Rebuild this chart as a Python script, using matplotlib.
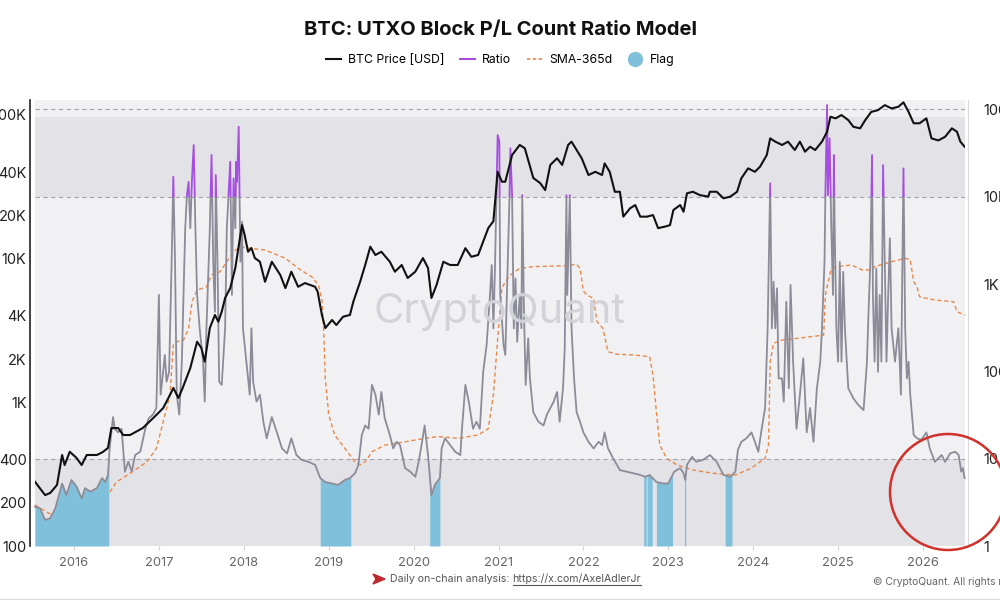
import numpy as np
import matplotlib
matplotlib.use("Agg")
import matplotlib.pyplot as plt
from matplotlib.lines import Line2D
from matplotlib.patches import Rectangle, Circle, Polygon

plt.rcParams['font.family'] = ['Inter', 'DejaVu Sans']

# ---------------- data (decimal years) ----------------
price_years = [2015.54, 2015.66, 2015.72, 2015.80, 2015.86, 2015.89, 2015.95, 2016.03, 2016.09, 2016.15,
               2016.27, 2016.34, 2016.40, 2016.44, 2016.52, 2016.58, 2016.66, 2016.81, 2016.97, 2017.05,
               2017.13, 2017.17, 2017.23, 2017.28, 2017.37, 2017.45, 2017.50, 2017.54, 2017.60, 2017.66,
               2017.70, 2017.74, 2017.78, 2017.84, 2017.90, 2017.96, 2017.98, 2018.01, 2018.05, 2018.09,
               2018.13, 2018.19, 2018.25, 2018.33, 2018.43, 2018.49, 2018.56, 2018.64, 2018.72, 2018.84,
               2018.87, 2018.92, 2018.96, 2019.04, 2019.09, 2019.17, 2019.25, 2019.29, 2019.37, 2019.43,
               2019.49, 2019.55, 2019.62, 2019.72, 2019.78, 2019.86, 2019.93, 2020.02, 2020.11, 2020.17,
               2020.21, 2020.27, 2020.35, 2020.43, 2020.52, 2020.61, 2020.68, 2020.76, 2020.82, 2020.88,
               2020.94, 2020.99, 2021.04, 2021.08, 2021.16, 2021.25, 2021.31, 2021.35, 2021.41, 2021.49,
               2021.55, 2021.61, 2021.69, 2021.75, 2021.82, 2021.86, 2021.92, 2021.98, 2022.06, 2022.14,
               2022.22, 2022.25, 2022.31, 2022.37, 2022.43, 2022.47, 2022.55, 2022.61, 2022.67, 2022.75,
               2022.82, 2022.88, 2022.96, 2023.02, 2023.06, 2023.14, 2023.18, 2023.22, 2023.29, 2023.37,
               2023.47, 2023.49, 2023.57, 2023.65, 2023.73, 2023.81, 2023.86, 2023.94, 2024.02, 2024.08,
               2024.16, 2024.20, 2024.26, 2024.34, 2024.41, 2024.49, 2024.55, 2024.61, 2024.67, 2024.73,
               2024.81, 2024.87, 2024.91, 2024.97, 2025.04, 2025.12, 2025.18, 2025.26, 2025.32, 2025.39,
               2025.47, 2025.55, 2025.63, 2025.71, 2025.77, 2025.83, 2025.89, 2025.96, 2026.04, 2026.10,
               2026.18, 2026.26, 2026.34, 2026.40, 2026.44, 2026.49]
price_usd = [280, 226, 234, 266, 430, 366, 453, 410, 366, 430,
             430, 451, 481, 662, 662, 592, 592, 662, 816, 912,
             1124, 1259, 1072, 1259, 1734, 2642, 2388, 1919, 3289, 4055,
             3640, 4276, 5323, 6237, 8603, 14600, 17130, 14600, 11170, 11860,
             10090, 9510, 6900, 9510, 7690, 6237, 8110, 6370, 6760, 6370,
             5890, 4055, 3289, 3740, 3450, 3945, 4055, 5010, 6900, 9030,
             12110, 10600, 11170, 9510, 8110, 9030, 7330, 8110, 10090, 8600,
             5320, 6550, 9510, 9030, 9030, 11830, 10300, 10600, 13130, 16330,
             18230, 40270, 34300, 34300, 52600, 61800, 58600, 48500, 36400, 33600,
             30000, 44900, 49900, 44900, 61800, 65200, 57000, 49900, 38200, 40200,
             38200, 46000, 40200, 29200, 29200, 19600, 22400, 23600, 19600, 19600,
             20100, 16300, 16700, 17100, 21800, 23600, 21200, 28500, 29200, 27700,
             27000, 29200, 29200, 26300, 27000, 29200, 36200, 42500, 40200, 43600,
             52600, 68700, 65200, 61800, 65200, 57000, 65200, 55500, 60100, 57000,
             65200, 76400, 97200, 94700, 99800, 92100, 82700, 80700, 92100, 105000,
             108000, 117000, 111000, 114000, 122400, 105000, 87500, 87500, 94700, 68700,
             66500, 70400, 80700, 76400, 65200, 60100]

ratio_years = [2015.54, 2015.60, 2015.66, 2015.72, 2015.78, 2015.86, 2015.91, 2015.97, 2016.03, 2016.09,
               2016.13, 2016.19, 2016.27, 2016.33, 2016.37, 2016.40, 2016.42, 2016.46, 2016.48, 2016.52,
               2016.56, 2016.60, 2016.64, 2016.68, 2016.72, 2016.78, 2016.84, 2016.88, 2016.93, 2016.97,
               2017.00, 2017.02, 2017.05, 2017.07, 2017.09, 2017.12, 2017.15, 2017.17, 2017.19, 2017.21,
               2017.24, 2017.27, 2017.31, 2017.33, 2017.35, 2017.37, 2017.39, 2017.41, 2017.43, 2017.45,
               2017.48, 2017.52, 2017.54, 2017.56, 2017.60, 2017.62, 2017.64, 2017.66, 2017.67, 2017.69,
               2017.71, 2017.74, 2017.78, 2017.80, 2017.82, 2017.84, 2017.86, 2017.88, 2017.90, 2017.91,
               2017.92, 2017.94, 2017.96, 2017.98, 2017.99, 2018.03, 2018.07, 2018.09, 2018.11, 2018.15,
               2018.19, 2018.23, 2018.27, 2018.33, 2018.39, 2018.45, 2018.51, 2018.56, 2018.62, 2018.68,
               2018.76, 2018.84, 2018.90, 2018.96, 2019.04, 2019.11, 2019.19, 2019.25, 2019.31, 2019.35,
               2019.39, 2019.43, 2019.47, 2019.51, 2019.55, 2019.59, 2019.62, 2019.66, 2019.72, 2019.76,
               2019.80, 2019.84, 2019.90, 2019.96, 2020.02, 2020.06, 2020.10, 2020.13, 2020.17, 2020.21,
               2020.25, 2020.31, 2020.33, 2020.37, 2020.43, 2020.49, 2020.55, 2020.57, 2020.61, 2020.65,
               2020.70, 2020.74, 2020.78, 2020.82, 2020.86, 2020.90, 2020.92, 2020.94, 2020.96, 2020.98,
               2020.99, 2021.01, 2021.02, 2021.06, 2021.08, 2021.12, 2021.13, 2021.14, 2021.16, 2021.18,
               2021.20, 2021.22, 2021.25, 2021.27, 2021.28, 2021.30, 2021.32, 2021.35, 2021.37, 2021.41,
               2021.47, 2021.53, 2021.57, 2021.61, 2021.65, 2021.69, 2021.72, 2021.76, 2021.78, 2021.80,
               2021.81, 2021.84, 2021.86, 2021.89, 2021.92, 2021.96, 2022.00, 2022.06, 2022.12, 2022.18,
               2022.22, 2022.25, 2022.29, 2022.35, 2022.43, 2022.51, 2022.59, 2022.67, 2022.73, 2022.78,
               2022.86, 2022.94, 2023.00, 2023.04, 2023.07, 2023.14, 2023.18, 2023.20, 2023.22, 2023.28,
               2023.33, 2023.41, 2023.49, 2023.57, 2023.65, 2023.73, 2023.79, 2023.82, 2023.86, 2023.92,
               2023.98, 2024.02, 2024.06, 2024.10, 2024.14, 2024.17, 2024.20, 2024.22, 2024.24, 2024.26,
               2024.28, 2024.30, 2024.34, 2024.36, 2024.39, 2024.42, 2024.44, 2024.47, 2024.51, 2024.55,
               2024.59, 2024.63, 2024.67, 2024.71, 2024.75, 2024.79, 2024.81, 2024.84, 2024.85, 2024.87,
               2024.88, 2024.90, 2024.92, 2024.94, 2024.95, 2024.96, 2024.98, 2025.00, 2025.02, 2025.04,
               2025.06, 2025.08, 2025.12, 2025.18, 2025.24, 2025.30, 2025.34, 2025.36, 2025.38, 2025.40,
               2025.41, 2025.43, 2025.45, 2025.47, 2025.49, 2025.51, 2025.53, 2025.55, 2025.57, 2025.59,
               2025.61, 2025.63, 2025.67, 2025.71, 2025.74, 2025.77, 2025.79, 2025.81, 2025.83, 2025.85,
               2025.89, 2025.93, 2025.98, 2026.04, 2026.08, 2026.14, 2026.18, 2026.22, 2026.26, 2026.32,
               2026.38, 2026.42, 2026.45, 2026.47, 2026.49]
ratio_vals = [2.82, 2.70, 1.99, 2.08, 2.70, 5.2, 3.84, 5.7, 4.8, 3.5,
              4.6, 4.2, 4.6, 6.0, 5.4, 6.5, 13.1, 30, 22, 20,
              22, 7.1, 9.2, 7.1, 11.0, 12.0, 22, 29, 32, 38,
              750, 54, 99, 154, 76, 99, 1800, 16900, 1800, 54,
              32, 129, 4350, 10400, 14800, 4350, 16200, 39000, 4350, 750,
              311, 129, 45, 311, 4350, 30000, 1800, 482, 17700, 1800,
              76, 70, 311, 4350, 10400, 25100, 750, 16200, 4350, 25100,
              14800, 63300, 1800, 5170, 311, 129, 54, 311, 76, 45,
              54, 26.5, 17.1, 30, 20, 13.1, 11.5, 17.1, 11.0, 9.7,
              9.2, 8.5, 6.0, 5.4, 5.2, 5.0, 5.7, 6.0, 6.8, 8.5,
              18.7, 24, 22, 70, 54, 32, 58, 29, 18.7, 13.1,
              15.6, 14.3, 7.8, 7.1, 6.2, 9.2, 15.6, 24, 11.0, 3.8,
              5.0, 6.0, 13.1, 17.1, 14.3, 12.0, 11.0, 22, 70, 45,
              22, 26.5, 22, 99, 200, 750, 1650, 311, 1800, 16200,
              50800, 42600, 750, 200, 154, 4350, 10400, 35800, 10400, 311,
              1160, 218, 750, 311, 10400, 482, 70, 239, 83, 34,
              26.5, 24, 32, 38, 45, 58, 26.5, 64, 184, 10400,
              750, 10400, 311, 83, 34, 26.5, 20, 15.6, 13.1, 15.6,
              14.3, 20, 13.1, 10.1, 7.4, 7.1, 6.8, 6.5, 6.2, 6.5,
              5.4, 5.2, 5.2, 6.2, 7.1, 7.8, 6.8, 5.7, 8.5, 10.5,
              9.2, 9.7, 11.0, 9.2, 6.5, 6.2, 7.1, 12.6, 15.6, 17.1,
              20, 15.6, 12.0, 22, 38, 311, 14200, 311, 1063, 311,
              893, 83, 83, 45, 627, 64, 975, 129, 22, 54,
              141, 20, 38, 15.6, 64, 129, 311, 1800, 10400, 112000,
              10400, 46600, 4350, 750, 30000, 4350, 311, 129, 1800, 129,
              1380, 311, 64, 49, 41, 36, 129, 527, 1800, 30000,
              750, 129, 1510, 99, 750, 129, 23000, 1800, 129, 750,
              3340, 311, 129, 311, 54, 21100, 311, 83, 129, 54,
              18.7, 17.1, 16.4, 20, 13.1, 9.2, 10.1, 11.0, 9.2, 11.5,
              12.0, 11.0, 7.1, 7.8, 6.0]

sma_years = [2015.54, 2015.64, 2015.74, 2015.86, 2016.00, 2016.20, 2016.40, 2016.50, 2016.66, 2016.86,
             2016.97, 2017.03, 2017.13, 2017.17, 2017.21, 2017.29, 2017.35, 2017.39, 2017.45, 2017.56,
             2017.62, 2017.72, 2017.80, 2017.88, 2017.96, 2018.07, 2018.25, 2018.49, 2018.64, 2018.80,
             2018.88, 2018.92, 2018.94, 2018.96, 2019.00, 2019.07, 2019.19, 2019.31, 2019.37, 2019.43,
             2019.51, 2019.66, 2019.90, 2020.13, 2020.29, 2020.53, 2020.76, 2020.88, 2020.94, 2021.00,
             2021.04, 2021.08, 2021.14, 2021.25, 2021.41, 2021.80, 2021.92, 2021.96, 2022.00, 2022.04,
             2022.12, 2022.16, 2022.23, 2022.29, 2022.39, 2022.59, 2022.78, 2022.82, 2022.86, 2022.90,
             2022.98, 2023.10, 2023.29, 2023.53, 2023.79, 2023.98, 2024.14, 2024.18, 2024.20, 2024.24,
             2024.34, 2024.57, 2024.83, 2024.85, 2024.91, 2024.97, 2025.16, 2025.28, 2025.40, 2025.43,
             2025.63, 2025.79, 2025.85, 2025.89, 2025.93, 2025.96, 2026.14, 2026.36, 2026.40, 2026.49]
sma_vals = [2.95, 2.58, 2.26, 2.3, 2.7, 3.2, 3.84, 5.4, 6.8, 9.2,
            13.1, 22, 54, 200, 218, 228, 311, 627, 850, 927,
            1270, 1380, 1800, 2340, 2670, 2560, 2450, 1970, 1510, 1210,
            975, 650, 311, 83, 32, 18.7, 13.1, 9.2, 8.5, 9.2,
            12.0, 14.3, 15.6, 17.1, 17.9, 17.1, 18.7, 22, 54, 311,
            893, 1063, 1270, 1510, 1580, 1620, 1680, 1510, 830, 750,
            684, 371, 311, 168, 157, 154, 147, 90, 34, 14.3,
            10.1, 8.5, 7.4, 6.8, 6.5, 7.8, 10.1, 14.3, 129, 210,
            228, 242, 260, 750, 1380, 1580, 1650, 1450, 1450, 1580,
            1800, 1970, 1900, 1063, 927, 713, 655, 627, 482, 440]

flag_periods = [(2015.54, 2016.41), (2018.90, 2019.26), (2020.19, 2020.31),
                (2022.71, 2022.74), (2022.75, 2022.81), (2022.86, 2023.05),
                (2023.19, 2023.205), (2023.67, 2023.75)]

year_ticks = list(range(2016, 2027))
price_ticks = [100, 200, 400, 1000, 2000, 4000, 10000, 20000, 40000, 100000]
price_tick_labels = ['100', '200', '400', '1K', '2K', '4K', '10K', '20K', '40K', '100K']
ratio_ticks = [1, 10, 100, 1000, 10000, 100000]
ratio_tick_labels = ['1', '10', '100', '1K', '10K', '100K']

# ---------------- style ----------------
BG = '#f1f1f4'
BAND = '#e3e3e7'
GRAY = '#8c8b98'
PURPLE = '#a64ee0'
ORANGE = '#e8894a'
FLAG = '#80c0da'

fig = plt.figure(figsize=(10, 6), dpi=100)
fig.patch.set_facecolor('white')
ax = fig.add_axes([0.035, 0.09, 0.93, 1 - 0.09 - 100 / 600])
ax2 = ax.twinx()

x0, x1 = 2016 + (35 - 74) / 84.9, 2016 + (965 - 74) / 84.9
ax.set_xlim(x0, x1)
ax.set_yscale('log')
ax.set_ylim(1, 10 ** 5.107)
ax2.set_yscale('log')
ax2.set_ylim(100, 10 ** 5.104)
ax.set_facecolor(BG)

# bands
ax.axhspan(1, 10, color=BAND, lw=0, zorder=0)
ax.axhspan(1e4, 8.17e4, color=BAND, lw=0, zorder=0)
for yv in (10, 1e4, 1e5):
    ax.axhline(yv, color='#a5a5ad', lw=0.8, dashes=(4, 3), zorder=1)

# watermark
fig.text(0.5, 1 - 312 / 600, 'CryptoQuant', ha='center', va='center', fontsize=30,
         color='#d2d2d9', zorder=0.5)

# SMA
ax.plot(sma_years, sma_vals, color=ORANGE, lw=1.0, dashes=(3, 2), zorder=1.5)

# flag fills
ry = np.array(ratio_years)
rlog = np.log10(np.array(ratio_vals))
for s, e in flag_periods:
    inner = ry[(ry > s) & (ry < e)]
    t = np.concatenate([[s], inner, [e]])
    v = 10 ** np.interp(t, ry, rlog)
    ax.fill_between(t, 1, v, color=FLAG, lw=0, zorder=2)

# ratio line: gray below 10K, purple above
lg, = ax.plot(ratio_years, ratio_vals, color=GRAY, lw=1.3, zorder=3, solid_joinstyle='round')
lp, = ax.plot(ratio_years, ratio_vals, color=PURPLE, lw=1.3, zorder=3, solid_joinstyle='round')
clip_lo = Rectangle((x0 - 1, 0.5), (x1 - x0) + 2, 1e4 - 0.5, transform=ax.transData)
clip_hi = Rectangle((x0 - 1, 1e4), (x1 - x0) + 2, 1e6, transform=ax.transData)
lg.set_clip_path(clip_lo)
lp.set_clip_path(clip_hi)

# price
ax2.plot(price_years, price_usd, color='#111111', lw=1.5, zorder=4)

# axes styling
for sp in ax.spines.values():
    sp.set_visible(False)
for sp in ax2.spines.values():
    sp.set_visible(False)
ax2.spines['left'].set_visible(True)
ax2.spines['left'].set_position(('outward', 3.6))
ax2.spines['left'].set_color('#222222')
ax2.spines['left'].set_linewidth(1.2)
ax.spines['right'].set_visible(True)
ax.spines['right'].set_position(('outward', 2.5))
ax.spines['right'].set_color('#d8d8de')
ax.spines['right'].set_linewidth(0.8)

ax.yaxis.tick_right()
ax.set_yticks(ratio_ticks)
ax.set_yticklabels(ratio_tick_labels)
ax.yaxis.set_minor_locator(matplotlib.ticker.NullLocator())
ax.tick_params(axis='y', length=0, pad=10.5, labelsize=10.5, labelcolor='#222222')

ax2.yaxis.tick_left()
ax2.set_yticks(price_ticks)
ax2.set_yticklabels(price_tick_labels)
ax2.yaxis.set_minor_locator(matplotlib.ticker.NullLocator())
ax2.tick_params(axis='y', length=0, pad=2.5, labelsize=10.5, labelcolor='#222222')

ax.set_xticks(year_ticks)
ax.set_xticklabels([str(y) for y in year_ticks])
ax.tick_params(axis='x', length=3, color='#cfcfd4', pad=5, labelsize=9.3, labelcolor='#666666')

# title
fig.text(0.5, 1 - 30 / 600, 'BTC: UTXO Block P/L Count Ratio Model', ha='center', va='center',
         fontsize=14.5, fontweight='bold', color='#111111')

# legend
handles = [Line2D([], [], color='#111111', lw=1.5),
           Line2D([], [], color=PURPLE, lw=1.5),
           Line2D([], [], color=ORANGE, lw=1.2, dashes=(2, 1.5)),
           Line2D([], [], color=FLAG, lw=0, marker='o', markersize=10)]
labels = ['BTC Price [USD]', 'Ratio', 'SMA-365d', 'Flag']
fig.legend(handles, labels, loc='center', bbox_to_anchor=(0.5, 1 - 60 / 600), ncol=4, frameon=False,
           fontsize=8.8, handlelength=1.25, handletextpad=0.55, columnspacing=1.3)

# footer
fy = 1 - 579 / 600
fig.patches.append(Polygon([[373 / 1000, fy + 5 / 600], [385 / 1000, fy], [373 / 1000, fy - 5 / 600],
                            [376 / 1000, fy]], closed=True, transform=fig.transFigure,
                           color='#c0262d', zorder=5))
t1 = fig.text(390 / 1000, fy, 'Daily on-chain analysis: ', ha='left', va='center', fontsize=7.6,
              color='#555555')
fig.canvas.draw()
bb = t1.get_window_extent()
t2 = fig.text(bb.x1 / 1000, fy, 'https://x.com/AxelAdlerJr', ha='left', va='center', fontsize=7.6,
              color='#555555')
fig.canvas.draw()
bb2 = t2.get_window_extent()
fig.add_artist(Line2D([bb2.x0 / 1000, bb2.x1 / 1000], [(bb2.y0 - 1) / 600, (bb2.y0 - 1) / 600],
                      color='#555555', lw=0.8, transform=fig.transFigure))
fig.text(873 / 1000, 1 - 582 / 600, '\u00a9 CryptoQuant. All rights reserved', ha='left', va='center',
         fontsize=7.4, color='#666666')
fig.add_artist(Line2D([0, 1], [1.5 / 600, 1.5 / 600], color='#dddddd', lw=1,
                      transform=fig.transFigure))

# red annotation circle
fig.patches.append(Circle((948, 600 - 492), 58, transform=None, fill=False, edgecolor='#d2302b',
                          lw=1.8, zorder=10))

fig.savefig('out.png', dpi=100, facecolor='white')
